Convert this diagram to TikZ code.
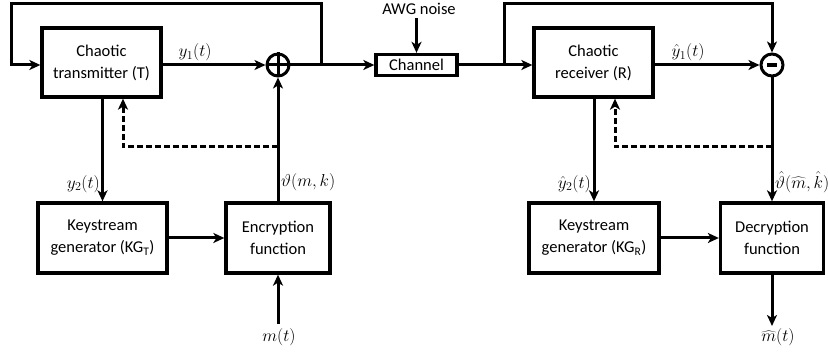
\documentclass[tikz,border=0pt]{standalone}
\usepackage{fontspec}
\setmainfont{Carlito}
\usetikzlibrary{arrows.meta,calc}
\begin{document}
\begin{tikzpicture}[x=1pt,y=-1pt,
  every node/.style={font=\fontsize{16.5}{22}\selectfont},
  blk/.style={draw, line width=3.3pt, align=center, inner sep=0pt},
  conn/.style={line width=3pt},
  arr/.style={conn, -{Stealth[length=11pt,width=10pt,inset=3pt]}},
  darr/.style={arr, dash pattern=on 6pt off 3pt},
  sumnode/.style={circle, draw, line width=3pt, minimum size=22pt, inner sep=0pt},
  lbl/.style={inner sep=1pt, font=\fontsize{17.5}{22}\selectfont}]
\useasboundingbox (0,0) rectangle (828,352);
% blocks
\node[blk, minimum width=119pt, minimum height=69pt] (T) at (101.5,62.5) {Chaotic\\transmitter (T)};
\node[blk, minimum width=119pt, minimum height=69pt] (R) at (593.5,62.5) {Chaotic\\receiver (R)};
\node[blk, minimum width=81pt, minimum height=21pt] (ch) at (416.5,65) {Channel};
\node[blk, minimum width=129pt, minimum height=70pt] (kgt) at (102.5,238) {Keystream\\generator (KG\textsubscript{T})};
\node[blk, minimum width=104pt, minimum height=70pt] (enc) at (278,238) {Encryption\\function};
\node[blk, minimum width=130pt, minimum height=70pt] (kgr) at (594,238) {Keystream\\generator (KG\textsubscript{R})};
\node[blk, minimum width=103pt, minimum height=70pt] (dec) at (772,238) {Decryption\\function};
\node[sumnode] (xor) at (278,65) {};
\draw[conn] (xor.north) -- (xor.south) (xor.west) -- (xor.east);
\node[sumnode] (sub) at (772,65) {};
\draw[line width=3.5pt] ([xshift=-5pt]sub.center) -- ([xshift=5pt]sub.center);
% coordinates
\coordinate (lp) at (11,65);
\coordinate (tj) at (321,65);
\coordinate (rj) at (504,65);
\coordinate (dt) at (123,147);
\coordinate (dr) at (615,147);
\coordinate (min) at (278,324);
\coordinate (mout) at (772,326);
\node (awg) at (419,9) {AWG noise};
\node[lbl] (m) at (279,337) {$m(t)$};
\node[lbl] (mh) at (778,337) {$\widehat{m}(t)$};
% transmitter side
\draw[arr] (tj) |- (321,4) -| (lp) -- (lp -| T.west);
\draw[arr] (xor.west -| T.east) -- (xor.west);
\draw[arr] (xor.east) -- (ch.west);
\draw[arr] (awg.south -| ch.north) -- (ch.north);
\draw[arr] (T.south -| kgt.north) -- (kgt.north);
\draw[arr] (enc.north) -- (xor.south);
\draw[darr] (enc.north |- dt) -- (dt) -- (dt |- T.south);
\draw[arr] (kgt.east) -- (enc.west);
\draw[arr] (min) -- (enc.south);
\node[lbl, anchor=south] at (195,62) {$y_1(t)$};
\node[lbl, anchor=east] at (101,184) {$y_2(t)$};
\node[lbl, anchor=west] at (280,182) {$\vartheta(m,k)$};
% receiver side
\draw[arr] (ch.east) -- (ch.east -| R.west);
\draw[arr] (rj) |- (772,4) -- (sub.north);
\draw[arr] (sub.west -| R.east) -- (sub.west);
\draw[arr] (sub.south) -- (dec.north);
\draw[darr] (dec.north |- dr) -- (dr) -- (dr |- R.south);
\draw[arr] (R.south -| kgr.north) -- (kgr.north);
\draw[arr] (kgr.east) -- (dec.west);
\draw[arr] (dec.south) -- (mout);
\node[lbl, anchor=south] at (688,62) {$\hat{y}_1(t)$};
\node[lbl, anchor=east] at (592,184) {$\hat{y}_2(t)$};
\node[lbl, anchor=west] at (774,182) {$\hat{\vartheta}(\widehat{m},\hat{k})$};
\end{tikzpicture}
\end{document}
